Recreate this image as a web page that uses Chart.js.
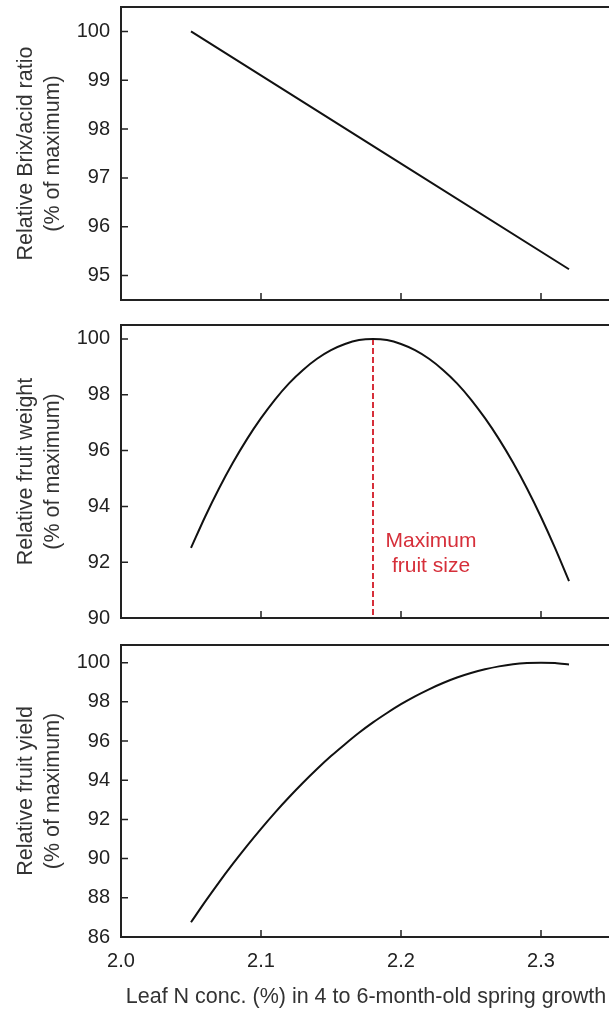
<!DOCTYPE html>
<html>
<head>
<meta charset="utf-8">
<script src="https://cdn.jsdelivr.net/npm/chart.js@4/dist/chart.umd.min.js"></script>
<style>
  body { margin: 0; background: #fff; overflow: hidden; width: 609px; height: 1010px; }
  canvas { position: absolute; left: 0; }
</style>
</head>
<body>
<canvas id="brix" width="611" height="310" style="top:0px"></canvas>
<canvas id="weight" width="611" height="310" style="top:318px"></canvas>
<canvas id="yield" width="611" height="372" style="top:638px"></canvas>
<script>
// values
const xTicks = [2.0, 2.1, 2.2, 2.3];

const brixX = [2.05, 2.32];
const brixY = [100, 95.13];
const brixTicks = [95, 96, 97, 98, 99, 100];

// leaf N readings used for the two curves
const leafN = [2.05, 2.06, 2.07, 2.08, 2.09, 2.10, 2.11, 2.12, 2.13, 2.14,
  2.15, 2.16, 2.17, 2.18, 2.19, 2.20, 2.21, 2.22, 2.23, 2.24,
  2.25, 2.26, 2.27, 2.28, 2.29, 2.30, 2.31, 2.32];

const weightY = [92.51, 93.62, 94.64, 95.57, 96.41, 97.16, 97.83, 98.41, 98.89, 99.29,
  99.60, 99.82, 99.96, 100, 99.96, 99.82, 99.60, 99.29, 98.89, 98.41,
  97.83, 97.16, 96.41, 95.57, 94.64, 93.62, 92.51, 91.32];
const weightTicks = [90, 92, 94, 96, 98, 100];

const yieldY = [86.75, 87.79, 88.79, 89.74, 90.65, 91.52, 92.35, 93.13, 93.87, 94.57,
  95.23, 95.84, 96.42, 96.95, 97.43, 97.88, 98.28, 98.64, 98.96, 99.24,
  99.47, 99.66, 99.81, 99.92, 99.98, 100, 99.98, 99.90];
const yieldTicks = [86, 88, 90, 92, 94, 96, 98, 100];

const maxSizeX = 2.18;
const maxSizeY = [100, 90];
const noteLines = ['Maximum', 'fruit size'];

const FONT = "'Liberation Sans', Arial, sans-serif";
const INK = '#222';

// box around the plot + inward tick marks
const framePlugin = {
  id: 'frame',
  afterDatasetsDraw(chart) {
    const { ctx, chartArea: a, scales } = chart;
    ctx.save();
    ctx.strokeStyle = INK;
    ctx.lineWidth = 2;
    ctx.strokeRect(a.left, a.top, a.right - a.left, a.bottom - a.top);
    ctx.lineWidth = 1.5;
    ctx.beginPath();
    xTicks.forEach(v => {
      const px = scales.x.getPixelForValue(v);
      ctx.moveTo(px, a.bottom);
      ctx.lineTo(px, a.bottom - 7);
    });
    scales.y.ticks.forEach(t => {
      const py = scales.y.getPixelForValue(t.value);
      ctx.moveTo(a.left, py);
      ctx.lineTo(a.left + 7, py);
    });
    ctx.stroke();
    ctx.restore();
  }
};

// "Maximum fruit size" label next to the dashed line
const notePlugin = {
  id: 'note',
  afterDatasetsDraw(chart) {
    if (chart.canvas.id !== 'weight') return;
    const { ctx, scales } = chart;
    const cx = scales.x.getPixelForValue(maxSizeX) + 58;
    const cy = scales.y.getPixelForValue(92.6);
    ctx.save();
    ctx.fillStyle = '#d62f3a';
    ctx.font = '21px ' + FONT;
    ctx.textAlign = 'center';
    ctx.textBaseline = 'middle';
    noteLines.forEach((s, i) => ctx.fillText(s, cx, cy - 4 + i * 25));
    ctx.restore();
  }
};

function pts(xs, ys) {
  return xs.map((x, i) => ({ x: x, y: ys[i] }));
}

function panel(id, datasets, yMin, yMax, yTicks, yTitle, showX) {
  new Chart(document.getElementById(id), {
    type: 'line',
    data: { datasets: datasets },
    plugins: [framePlugin, notePlugin],
    options: {
      responsive: false,
      animation: false,
      devicePixelRatio: 1,
      layout: { padding: { top: 7, bottom: showX ? 0 : 10, left: 0, right: 0 } },
      plugins: { legend: { display: false }, tooltip: { enabled: false } },
      elements: { point: { radius: 0 } },
      scales: {
        x: {
          type: 'linear',
          min: 2.0,
          max: 2.35,
          display: showX,
          grid: { display: false, drawTicks: false },
          border: { display: false },
          afterBuildTicks: s => { s.ticks = xTicks.map(v => ({ value: v })); },
          afterFit: s => {
            s.height = showX ? 73 : 0;
            s.paddingLeft = 0;
            s.paddingRight = 0;
          },
          ticks: {
            padding: 12,
            color: INK,
            font: { family: FONT, size: 20 },
            callback: v => v.toFixed(1)
          },
          title: {
            display: true,
            text: 'Leaf N conc. (%) in 4 to 6-month-old spring growth',
            color: '#333',
            font: { family: FONT, size: 21.5, lineHeight: 1.2 },
            padding: { top: 0, bottom: 0 }
          }
        },
        y: {
          min: yMin,
          max: yMax,
          grid: { display: false, drawTicks: false },
          border: { display: false },
          afterBuildTicks: s => { s.ticks = yTicks.map(v => ({ value: v })); },
          afterFit: s => {
            s.width = 121;
            s.paddingTop = 0;
            s.paddingBottom = 0;
          },
          ticks: {
            padding: 11,
            color: INK,
            font: { family: FONT, size: 20 }
          },
          title: {
            display: true,
            text: yTitle,
            color: '#333',
            font: { family: FONT, size: 21.5, lineHeight: 1.25 },
            padding: { top: 13, bottom: 0 }
          }
        }
      }
    }
  });
}

const curve = {
  borderColor: '#111',
  borderWidth: 2,
  fill: false,
  tension: 0.3
};

panel('brix', [Object.assign({ data: pts(brixX, brixY) }, curve)],
  94.5, 100.5, brixTicks, ['Relative Brix/acid ratio', '(% of maximum)'], false);

panel('weight', [
  Object.assign({ data: pts(leafN, weightY) }, curve),
  {
    data: maxSizeY.map(v => ({ x: maxSizeX, y: v })),
    borderColor: '#d62f3a',
    borderWidth: 2,
    borderDash: [6, 3],
    fill: false
  }
], 90, 100.5, weightTicks, ['Relative fruit weight', '(% of maximum)'], false);

panel('yield', [Object.assign({ data: pts(leafN, yieldY) }, curve)],
  86, 100.9, yieldTicks, ['Relative fruit yield', '(% of maximum)'], true);
</script>
</body>
</html>
